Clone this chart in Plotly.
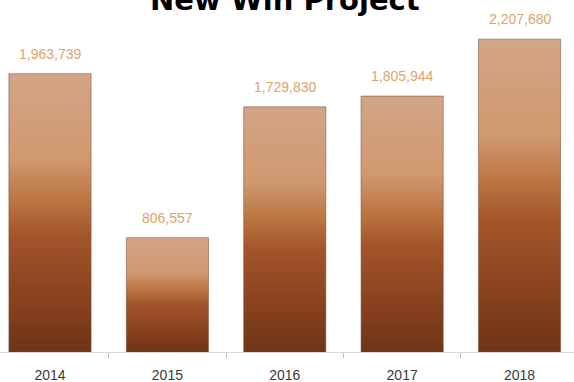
import plotly.graph_objects as go

years = ["2014", "2015", "2016", "2017", "2018"]
values = [1963739, 806557, 1729830, 1805944, 2207680]
title_text = "New Win Project"

fig = go.Figure()
fig.add_trace(go.Bar(
    x=years, y=values,
    marker=dict(color="#a85a2c", line=dict(color="rgba(110,85,70,0.55)", width=1)),
    width=0.70,
    hoverinfo="skip",
))

for i, v in enumerate(values):
    fig.add_annotation(
        x=i, y=v, text=f"{v:,}", showarrow=False,
        yanchor="middle", yshift=20,
        font=dict(family="Liberation Sans", size=14, color="#dea46c"),
    )

fig.add_annotation(
    xref="paper", yref="paper", x=285 / 574, y=1 - 18.5 / 352,
    xanchor="center", yanchor="bottom", text=title_text, showarrow=False,
    font=dict(family="DejaVu Sans", size=29, color="#000000", weight="bold"),
)

fig.update_layout(
    width=574, height=382,
    margin=dict(l=0, r=0, t=0, b=30),
    paper_bgcolor="white", plot_bgcolor="white",
    showlegend=False,
    xaxis=dict(
        type="category", range=[-0.426, 4.464],
        showline=True, linecolor="#d9d9d9", linewidth=1,
        ticks="outside", tickson="boundaries", ticklen=5, tickcolor="#bfbfbf",
        ticklabelstandoff=10, automargin=False,
        showgrid=False, zeroline=False,
        tickfont=dict(family="Liberation Sans", size=14, color="#3a3a3a"),
    ),
    yaxis=dict(range=[0, 2484000], visible=False, showgrid=False, zeroline=False),
)

post = """
var gd = document.getElementById('{plot_id}');
var ns = 'http://www.w3.org/2000/svg';
var svg = gd.querySelector('svg.main-svg');
var defs = svg.querySelector('defs');
if (!defs) { defs = document.createElementNS(ns, 'defs'); svg.insertBefore(defs, svg.firstChild); }
var g = document.createElementNS(ns, 'linearGradient');
g.setAttribute('id', 'barGradBrown');
g.setAttribute('x1', '0'); g.setAttribute('y1', '0');
g.setAttribute('x2', '0'); g.setAttribute('y2', '1');
var stops = [[0, '#d4a487'], [0.3, '#d09a70'], [0.46, '#bb7442'], [0.58, '#a4552a'], [0.78, '#8c4420'], [1, '#6e3416']];
stops.forEach(function(s){
  var st = document.createElementNS(ns, 'stop');
  st.setAttribute('offset', s[0]);
  st.setAttribute('stop-color', s[1]);
  g.appendChild(st);
});
defs.appendChild(g);
gd.querySelectorAll('.barlayer .point path').forEach(function(p){ p.style.fill = 'url(#barGradBrown)'; });
"""

fig.write_html("out.html", post_script=post)
